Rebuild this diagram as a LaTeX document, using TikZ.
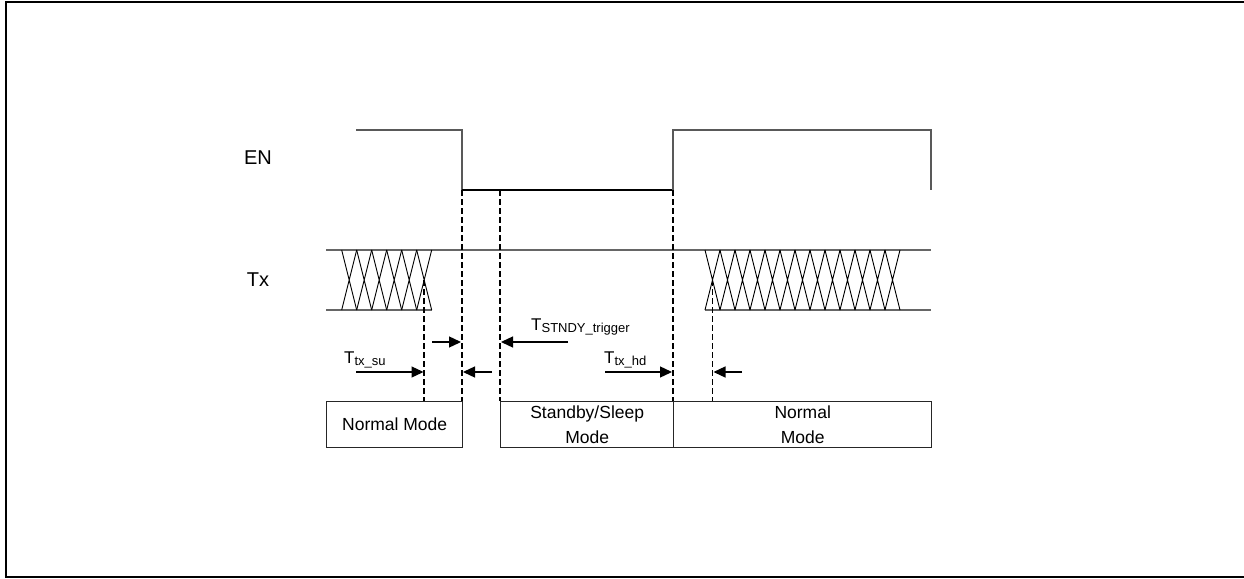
\documentclass[tikz,border=0pt]{standalone}
\usepackage{fontspec}
\setmainfont{Liberation Sans}
\usetikzlibrary{arrows.meta}
\begin{document}
\begin{tikzpicture}[x=1pt,y=-1pt,
  frame/.style={line width=2pt, black},
  sig/.style={line width=1.8pt, black!65},
  siglow/.style={line width=1.7pt, black},
  bus/.style={line width=1.8pt, black!60},
  xing/.style={line width=0.9pt, black},
  guide/.style={line width=1.6pt, dash pattern=on 6pt off 3pt},
  modebox/.style={draw=black!85, line width=1.4pt, minimum height=46pt, inner sep=0pt,
    align=center, anchor=north west, font=\fontsize{17.5}{25}\selectfont},
  timearrow/.style={-{Triangle[length=12pt,width=11pt]}, line width=1.3pt},
  lbl/.style={font=\fontsize{20}{20}\selectfont, inner sep=0pt},
  tlbl/.style={font=\fontsize{17}{17}\selectfont, inner sep=0pt, anchor=base west}
]
\useasboundingbox (0,0) rectangle (1244,578);

% outer frame
\draw[frame] (1244,2) -- (6,2) -- (6,577) -- (1244,577);

% signal labels
\node[lbl] (en) at (258,158) {EN};
\node[lbl] (tx) at (258,280) {Tx};

% EN waveform
\coordinate (enA) at (356,130);
\coordinate (enB) at (462,130);
\coordinate (enC) at (462,190);
\coordinate (enT) at (500,190);
\coordinate (enD) at (673,190);
\coordinate (enE) at (673,130);
\coordinate (enF) at (931,130);
\coordinate (enG) at (931,190);
\draw[sig] (enA) -- (enB) -- (enC);
\draw[siglow] (enC) -- (enD);
\draw[sig] (enD) -- (enE) -- (enF) -- (enG);

% Tx bus
\draw[bus] (326,250) -- (931,250);
\draw[bus] (326,310) -- (432,310);
\draw[bus] (705,310) -- (931,310);
\foreach \i in {0,...,5} {
  \draw[xing] ({341.7+15*\i},250) -- ({356.7+15*\i},310)
              ({356.7+15*\i},250) -- ({341.7+15*\i},310);
}
\foreach \i in {0,...,12} {
  \draw[xing] ({705+15*\i},250) -- ({720+15*\i},310)
              ({720+15*\i},250) -- ({705+15*\i},310);
}
\coordinate (txL) at (424.2,280);
\coordinate (txR) at (712.5,280);

% mode boxes
\node[modebox, minimum width=136pt] (nm1) at (326,401) {Normal Mode};
\node[modebox, minimum width=173pt] (sby) at (500,401) {Standby/Sleep\\Mode};
\node[modebox, minimum width=258pt] (nm2) at (673,401) {Normal\\Mode};

% dashed guides
\coordinate (gL) at (424.2,401);
\coordinate (gC) at (462,401);
\coordinate (gT) at (500,401);
\coordinate (gD) at (673,401);
\coordinate (gR) at (712.5,401);
\draw[guide] (txL) -- (gL);
\draw[guide] (enC) -- (gC);
\draw[guide] (enT) -- (gT);
\draw[guide] (enD) -- (gD);
\draw[guide] (txR) -- (gR);

% timing arrows
\coordinate (a1s) at (356,372);   \coordinate (a1e) at (423.5,372);
\coordinate (a2s) at (432,342);   \coordinate (a2e) at (461,342);
\coordinate (a3s) at (492,372);   \coordinate (a3e) at (463,372);
\coordinate (a4s) at (568,342);   \coordinate (a4e) at (501,342);
\coordinate (a5s) at (605,372);   \coordinate (a5e) at (672,372);
\coordinate (a6s) at (742,372);   \coordinate (a6e) at (713.5,372);
\draw[timearrow] (a1s) -- (a1e);
\draw[timearrow] (a2s) -- (a2e);
\draw[timearrow] (a3s) -- (a3e);
\draw[timearrow] (a4s) -- (a4e);
\draw[timearrow] (a5s) -- (a5e);
\draw[timearrow] (a6s) -- (a6e);

% timing labels
\node[tlbl] (tsu) at (344,363) {T\raisebox{-2pt}{\fontsize{13}{13}\selectfont tx\_su}};
\node[tlbl] (tst) at (531,330) {T\raisebox{-2pt}{\fontsize{13}{13}\selectfont STNDY\_trigger}};
\node[tlbl] (thd) at (604,363) {T\raisebox{-2pt}{\fontsize{13}{13}\selectfont tx\_hd}};
\end{tikzpicture}
\end{document}
